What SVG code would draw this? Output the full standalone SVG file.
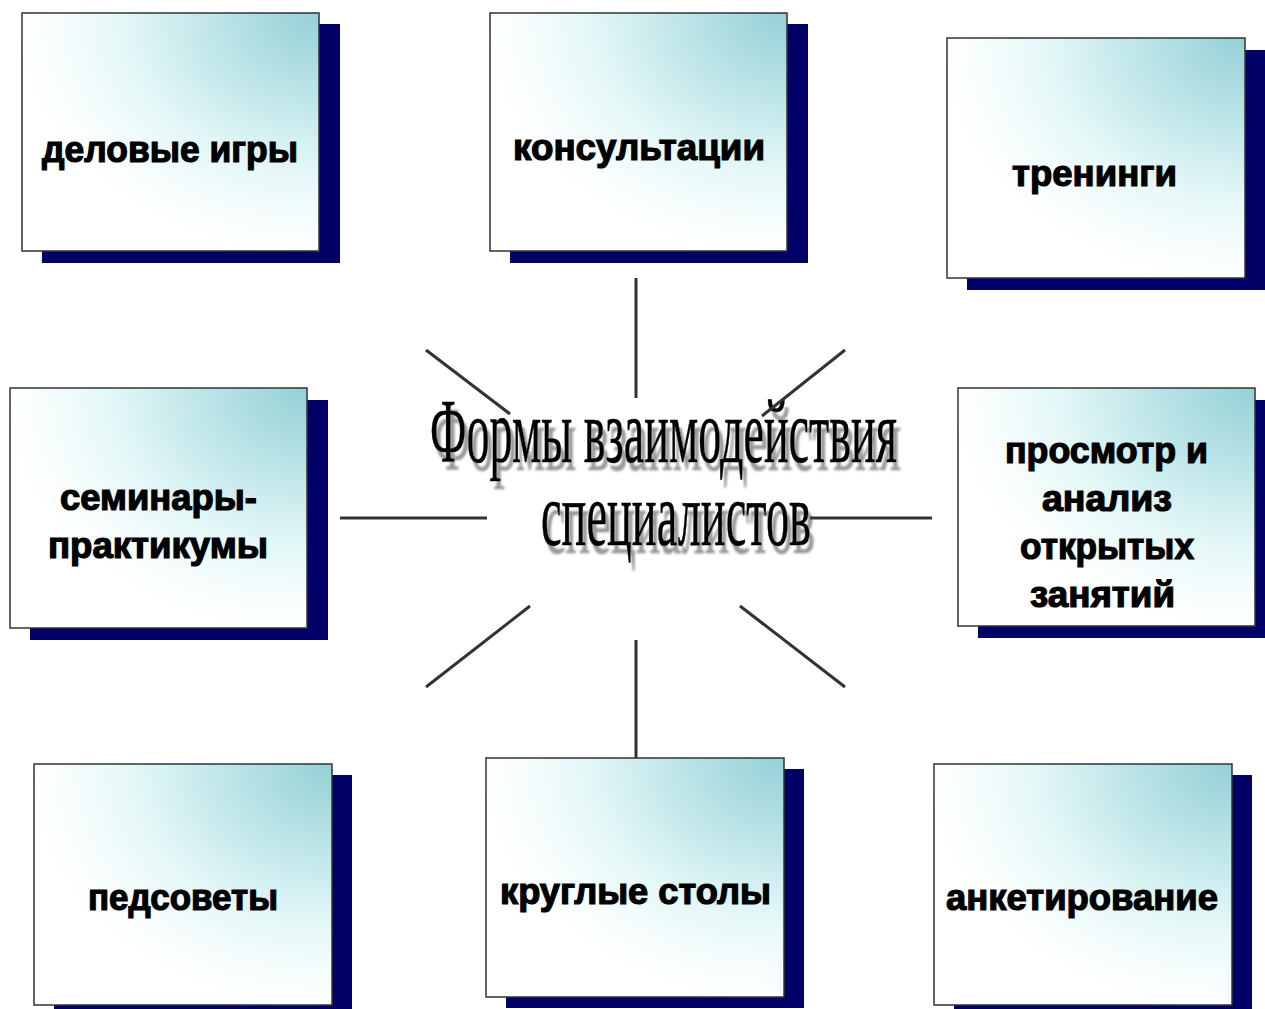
<svg xmlns="http://www.w3.org/2000/svg" width="1265" height="1009" viewBox="0 0 1265 1009">
  <defs>
    <radialGradient id="boxFill" cx="1" cy="0" r="1.05" fx="1" fy="0">
      <stop offset="0" stop-color="#94d0d6"/>
      <stop offset="0.35" stop-color="#bfe6e9"/>
      <stop offset="0.65" stop-color="#e6f8f8"/>
      <stop offset="0.9" stop-color="#fbfefe"/>
      <stop offset="1" stop-color="#ffffff"/>
    </radialGradient>
    <filter id="titleShadow" x="-20%" y="-40%" width="140%" height="190%">
      <feDropShadow dx="4" dy="8" stdDeviation="1.2" flood-color="#8c8c8c" flood-opacity="0.9"/>
    </filter>
  </defs>
  <style>
    .shadow { fill: #000066; }
    .box { fill: url(#boxFill); stroke: #333333; stroke-width: 1.5; }
    .label { font-family: "Liberation Sans", Arial, sans-serif; font-weight: bold; font-size: 36px; fill: #000000; stroke: #000000; stroke-width: 1.2; }
    .title { font-family: "Liberation Serif", "Times New Roman", serif; font-size: 90px; fill: #000000; stroke: #000000; stroke-width: 0.6; }
    .conn { stroke: #333333; stroke-width: 3; stroke-linecap: butt; fill: none; }
  </style>
  <rect width="1265" height="1009" fill="#ffffff"/>

  <g id="title" filter="url(#titleShadow)">
    <text class="title" x="430" y="462" textLength="467" lengthAdjust="spacingAndGlyphs">Формы взаимодействия</text>
    <text class="title" x="541" y="545" textLength="270" lengthAdjust="spacingAndGlyphs">специалистов</text>
  </g>

  <g id="connectors">
    <line class="conn" x1="636" y1="278" x2="636" y2="398"/>
    <line class="conn" x1="426" y1="350" x2="510" y2="414"/>
    <line class="conn" x1="845" y1="350" x2="762" y2="416"/>
    <line class="conn" x1="340" y1="518" x2="487" y2="518"/>
    <line class="conn" x1="810" y1="518" x2="932" y2="518"/>
    <line class="conn" x1="426" y1="687" x2="530" y2="606"/>
    <line class="conn" x1="636" y1="640" x2="636" y2="758"/>
    <line class="conn" x1="740" y1="606" x2="845" y2="687"/>
  </g>

  <g id="node-delovye-igry">
    <rect class="shadow" x="42" y="24" width="298" height="239"/>
    <rect class="box" x="22" y="13" width="297" height="238"/>
    <text class="label" x="42" y="162" textLength="256" lengthAdjust="spacingAndGlyphs">деловые игры</text>
  </g>

  <g id="node-konsultatsii">
    <rect class="shadow" x="510" y="24" width="298" height="239"/>
    <rect class="box" x="490" y="13" width="297" height="238"/>
    <text class="label" x="513" y="160" textLength="252" lengthAdjust="spacingAndGlyphs">консультации</text>
  </g>

  <g id="node-treningi">
    <rect class="shadow" x="967" y="50" width="298" height="240"/>
    <rect class="box" x="947" y="38" width="298" height="240"/>
    <text class="label" x="1012" y="186" textLength="165" lengthAdjust="spacingAndGlyphs">тренинги</text>
  </g>

  <g id="node-seminary">
    <rect class="shadow" x="30" y="400" width="298" height="240"/>
    <rect class="box" x="10" y="388" width="297" height="240"/>
    <text class="label" x="60" y="510" textLength="197" lengthAdjust="spacingAndGlyphs">семинары-</text>
    <text class="label" x="48" y="558" textLength="220" lengthAdjust="spacingAndGlyphs">практикумы</text>
  </g>

  <g id="node-prosmotr">
    <rect class="shadow" x="978" y="400" width="298" height="238"/>
    <rect class="box" x="958" y="388" width="297" height="238"/>
    <text class="label" x="1005" y="463" textLength="203" lengthAdjust="spacingAndGlyphs">просмотр и</text>
    <text class="label" x="1042" y="511" textLength="130" lengthAdjust="spacingAndGlyphs">анализ</text>
    <text class="label" x="1020" y="559" textLength="174" lengthAdjust="spacingAndGlyphs">открытых</text>
    <text class="label" x="1030" y="607" textLength="145" lengthAdjust="spacingAndGlyphs">занятий</text>
  </g>

  <g id="node-pedsovety">
    <rect class="shadow" x="54" y="775" width="298" height="241"/>
    <rect class="box" x="34" y="764" width="298" height="241"/>
    <text class="label" x="88" y="910" textLength="190" lengthAdjust="spacingAndGlyphs">педсоветы</text>
  </g>

  <g id="node-kruglye-stoly">
    <rect class="shadow" x="506" y="769" width="298" height="239"/>
    <rect class="box" x="486" y="758" width="298" height="239"/>
    <text class="label" x="500" y="904" textLength="271" lengthAdjust="spacingAndGlyphs">круглые столы</text>
  </g>

  <g id="node-anketirovanie">
    <rect class="shadow" x="954" y="775" width="298" height="241"/>
    <rect class="box" x="934" y="764" width="298" height="241"/>
    <text class="label" x="946" y="910" textLength="272" lengthAdjust="spacingAndGlyphs">анкетирование</text>
  </g>
</svg>
